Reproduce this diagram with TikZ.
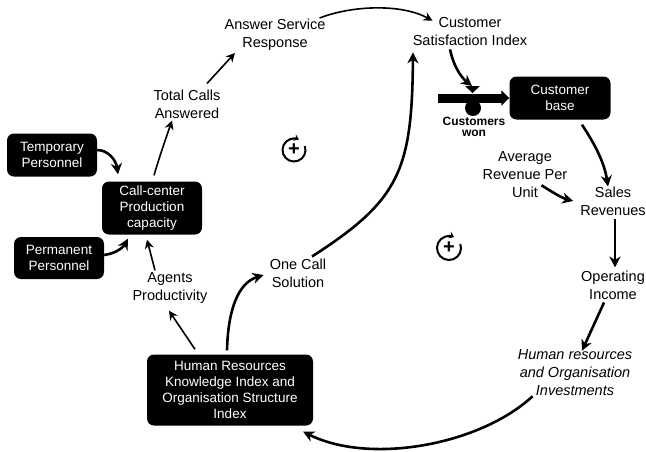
\documentclass[tikz,border=0pt]{standalone}
\usepackage{fontspec}
\setmainfont{Liberation Sans}
\usetikzlibrary{arrows.meta}
\begin{document}
\begin{tikzpicture}[x=1pt,y=-1pt,
 lbl/.style={align=center,inner sep=0pt,font=\fontsize{14.5}{18}\selectfont},
 bbox/.style={fill=black,text=white,rounded corners=7pt,align=center,inner sep=0pt,font=\fontsize{13.5}{16}\selectfont},
 thinarr/.style={-{Stealth[length=9pt,width=9pt]},line width=1.6pt},
 thickarr/.style={-{Stealth[length=11pt,width=11pt]},line width=2.6pt},
 loopsym/.style={circle,inner sep=0pt,minimum size=22pt,font=\bfseries\fontsize{20}{20}\selectfont},
 looparc/.style={line width=2pt,-{Stealth[length=5pt,width=7pt]}}
]
\useasboundingbox (0,0) rectangle (646,451);

% text labels
\node[lbl] (asr) at (275,35) {Answer Service\\Response};
\node[lbl] (csi) at (470,32) {Customer\\Satisfaction Index};
\node[lbl] (tca) at (187,104) {Total Calls\\Answered};
\node[lbl] (agp) at (170,288) {Agents\\Productivity};
\node[lbl] (ocs) at (298,273) {One Call\\Solution};
\node[lbl] (arpu) at (525,175) {Average\\Revenue Per\\Unit};
\node[lbl] (sr) at (613,201) {Sales\\Revenues};
\node[lbl] (oi) at (613,285) {Operating\\Income};
\node[lbl,font=\itshape\fontsize{14.5}{18}\selectfont] (hri) at (575,373) {Human resources\\and Organisation\\Investments};
\node[align=center,inner sep=0pt,font=\bfseries\fontsize{12}{11.5}\selectfont] (cw) at (474,127) {Customers\\won};

% black boxes
\node[bbox,minimum width=90pt,minimum height=43pt] (tp) at (52,155) {Temporary\\Personnel};
\node[bbox,minimum width=100pt,minimum height=53pt] (cc) at (152,208) {Call-center\\Production\\capacity};
\node[bbox,minimum width=90pt,minimum height=42pt] (pp) at (59,258) {Permanent\\Personnel};
\node[bbox,minimum width=166pt,minimum height=71pt] (hr) at (230,390) {Human Resources\\Knowledge Index and\\Organisation Structure\\Index};
\node[bbox,minimum width=101pt,minimum height=43pt] (cb) at (560,98) {Customer\\base};

% loop symbols
\node[loopsym] (loopA) at (294,150) {+};
\node[loopsym] (loopB) at (449,248) {+};
\draw[looparc] (loopA.center) ++(20:11.5pt) arc[start angle=20,end angle=-295,radius=11.5pt];
\draw[looparc] (loopB.center) ++(20:12pt) arc[start angle=20,end angle=-295,radius=12pt];

% flow pipe with valve
\coordinate (src) at (438,98);
\coordinate (valve) at (472,86);
\draw[line width=9pt,-{Triangle[length=8pt,width=15pt]}] (src) -- ([shift={(0,0)}]cb.west);
\fill (465,86) -- (480,86) -- (472.5,93) -- cycle;
\fill (473,108) circle (8pt);

% connectors
\draw[thinarr] ([shift={(-6,-1)}]asr.north east) .. controls (350,6) and (400,3) .. ([shift={(20,3)}]csi.north west);
\draw[thinarr] ([shift={(20,-6)}]tca.north) -- ([shift={(-40,2)}]asr.south);
\draw[thinarr] ([shift={(2,-6)}]cc.north) .. controls (160,155) and (166,138) .. ([shift={(-15,2)}]tca.south);
\draw[thickarr] ([shift={(0,-5)}]tp.east) .. controls (108,150) and (116,160) .. ([shift={(-34,-7)}]cc.north);
\draw[thickarr] ([shift={(0,-3)}]pp.east) .. controls (118,253) and (124,246) .. ([shift={(-24,4)}]cc.south);
\draw[thinarr] ([shift={(-15,-2)}]agp.north) -- ([shift={(-5,5)}]cc.south);
\draw[thinarr] ([shift={(-35,-5)}]hr.north) -- ([shift={(-1,7)}]agp.south);
\draw[thickarr] ([shift={(-3,-4)}]hr.north) .. controls (228,310) and (238,283) .. ([shift={(-6,2)}]ocs.west);
\draw[thickarr] ([shift={(14,-2)}]ocs.north) .. controls (400,200) and (412,170) .. ([shift={(-57,6)}]csi.south);
\draw[thickarr] ([shift={(-20,3)}]csi.south) .. controls (454,68) and (462,78) .. (valve);
\draw[thickarr] ([shift={(22,5)}]cb.south) .. controls (592,140) and (604,160) .. ([shift={(-5,0)}]sr.north);
\draw[thickarr] ([shift={(-26,-13)}]arpu.south east) .. controls (552,192) and (562,198) .. ([shift={(-7,0)}]sr.west);
\draw[thickarr] ([shift={(2,3)}]sr.south) -- ([shift={(2,-3)}]oi.north);
\draw[thickarr] ([shift={(-9,3)}]oi.south) -- ([shift={(7,1)}]hri.north);
\draw[thickarr] ([shift={(15,0)}]hri.south west) .. controls (480,445) and (370,465) .. ([shift={(-10,6)}]hr.south east);
\end{tikzpicture}
\end{document}
